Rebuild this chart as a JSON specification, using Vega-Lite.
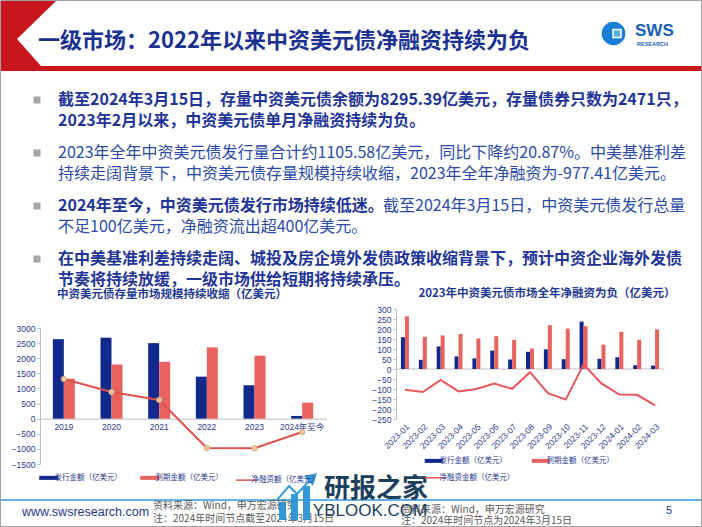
{
  "$schema": "https://vega.github.io/schema/vega-lite/v6.json",
  "width": 702,
  "height": 527,
  "autosize": "none",
  "padding": 0,
  "background": "white",
  "config": {"view": {"stroke": null}, "font": "Noto Sans CJK SC"},
  "resolve": {
    "scale": {"x": "independent", "y": "independent", "color": "independent", "stroke": "independent"},
    "axis": {"x": "independent", "y": "independent"},
    "legend": {"color": "independent", "stroke": "independent"}
  },
  "layer": [
    {
      "data": {"values": [{}]},
      "mark": {"type": "point", "shape": "M -0.99715,-0.09972 L -0.84046,-0.09972 L -0.95157,0.00855 L -0.88319,0.08547 L 1,0.08547 L 1,0.09972 L -0.99715,0.09972 Z", "size": 492804, "filled": true, "fill": "#c8161d", "strokeWidth": 0, "opacity": 1},
      "encoding": {"x": {"value": 351}, "y": {"value": 36}}
    },
    {
      "data": {"values": [{}]},
      "mark": {"type": "point", "shape": "circle", "size": 560, "filled": true, "fill": "#1a7fd4", "strokeWidth": 0, "opacity": 1},
      "encoding": {"x": {"value": 613.5}, "y": {"value": 33.5}}
    },
    {
      "data": {"values": [{}]},
      "mark": {"type": "point", "shape": "square", "size": 90, "filled": true, "fill": "white", "strokeWidth": 0, "opacity": 1},
      "encoding": {"x": {"value": 617}, "y": {"value": 33.5}}
    },
    {
      "data": {"values": [{}]},
      "mark": {"type": "point", "shape": "square", "size": 40, "filled": true, "fill": "#4fb0ea", "strokeWidth": 0, "opacity": 1},
      "encoding": {"x": {"value": 617}, "y": {"value": 33.5}}
    },
    {
      "data": {"values": [{"t": "SWS"}]},
      "mark": {"type": "text", "align": "left", "baseline": "middle", "fontSize": 17, "fontWeight": "bold", "font": "Liberation Sans", "color": "#1a5fb4"},
      "encoding": {"x": {"value": 635}, "y": {"value": 31}, "text": {"field": "t"}}
    },
    {
      "data": {"values": [{"t": "RESEARCH"}]},
      "mark": {"type": "text", "align": "left", "baseline": "middle", "fontSize": 5.5, "fontWeight": "bold", "font": "Liberation Sans", "color": "#1a5fb4"},
      "encoding": {"x": {"value": 637}, "y": {"value": 43.5}, "text": {"field": "t"}}
    },
    {
      "data": {"values": [{"t": "一级市场：2022年以来中资美元债净融资持续为负"}]},
      "mark": {"type": "text", "align": "left", "baseline": "middle", "fontSize": 22, "fontWeight": "bold", "color": "#1b3190"},
      "encoding": {"x": {"value": 38}, "y": {"value": 41}, "text": {"field": "t"}}
    },
    {
      "data": {"values": [
        {"para": 1, "line": 1, "seg": 1, "emphasis": true, "text": "截至2024年3月15日，存量中资美元债余额为8295.39亿美元，存量债券只数为2471只，"},
        {"para": 1, "line": 2, "seg": 1, "emphasis": true, "text": "2023年2月以来，中资美元债单月净融资持续为负。"},
        {"para": 2, "line": 1, "seg": 1, "emphasis": false, "text": "2023年全年中资美元债发行量合计约1105.58亿美元，同比下降约20.87%。中美基准利差"},
        {"para": 2, "line": 2, "seg": 1, "emphasis": false, "text": "持续走阔背景下，中资美元债存量规模持续收缩，2023年全年净融资为-977.41亿美元。"},
        {"para": 3, "line": 1, "seg": 1, "emphasis": true, "text": "2024年至今，中资美元债发行市场持续低迷。"},
        {"para": 3, "line": 1, "seg": 2, "emphasis": false, "text": "截至2024年3月15日，中资美元债发行总量"},
        {"para": 3, "line": 2, "seg": 1, "emphasis": false, "text": "不足100亿美元，净融资流出超400亿美元。"},
        {"para": 4, "line": 1, "seg": 1, "emphasis": true, "text": "在中美基准利差持续走阔、城投及房企境外发债政策收缩背景下，预计中资企业海外发债"},
        {"para": 4, "line": 2, "seg": 1, "emphasis": true, "text": "节奏将持续放缓，一级市场供给短期将持续承压。"}
      ]},
      "encoding": {
        "x": {"field": "seg", "type": "quantitative", "scale": {"domain": [1, 2], "range": [58, 383], "zero": false, "nice": false}, "axis": null},
        "y": {"field": "para", "type": "quantitative", "scale": {"domain": [1, 4], "range": [100, 259], "zero": false, "nice": false}, "axis": null}
      },
      "layer": [
        {
          "transform": [{"filter": "datum.line === 1 && datum.seg === 1"}],
          "mark": {"type": "square", "size": 49, "color": "#a6a6a6", "opacity": 1, "xOffset": -21}
        },
        {
          "transform": [{"filter": "datum.line === 1 && datum.emphasis"}],
          "mark": {"type": "text", "align": "left", "baseline": "middle", "fontSize": 16, "fontWeight": "bold", "color": "#1f3596"},
          "encoding": {"text": {"field": "text"}}
        },
        {
          "transform": [{"filter": "datum.line === 1 && !datum.emphasis"}],
          "mark": {"type": "text", "align": "left", "baseline": "middle", "fontSize": 16, "color": "#2b4ba6"},
          "encoding": {"text": {"field": "text"}}
        },
        {
          "transform": [{"filter": "datum.line === 2 && datum.emphasis"}],
          "mark": {"type": "text", "align": "left", "baseline": "middle", "fontSize": 16, "fontWeight": "bold", "color": "#1f3596", "dy": 21},
          "encoding": {"text": {"field": "text"}}
        },
        {
          "transform": [{"filter": "datum.line === 2 && !datum.emphasis"}],
          "mark": {"type": "text", "align": "left", "baseline": "middle", "fontSize": 16, "color": "#2b4ba6", "dy": 21},
          "encoding": {"text": {"field": "text"}}
        }
      ]
    },
    {
      "data": {"values": [{"t": "中资美元债存量市场规模持续收缩（亿美元）"}]},
      "mark": {"type": "text", "align": "center", "baseline": "middle", "fontSize": 11.5, "fontWeight": "bold", "color": "#1f3a8f"},
      "encoding": {"x": {"value": 172}, "y": {"value": 295}, "text": {"field": "t"}}
    },
    {
      "data": {"values": [{"t": "2023年中资美元债市场全年净融资为负（亿美元）"}]},
      "mark": {"type": "text", "align": "center", "baseline": "middle", "fontSize": 11.5, "fontWeight": "bold", "color": "#1f3a8f"},
      "encoding": {"x": {"value": 547}, "y": {"value": 294}, "text": {"field": "t"}}
    },
    {
      "data": {"values": [
        {"year": "2019", "series": "发行金额（亿美元）", "value": 2630},
        {"year": "2020", "series": "发行金额（亿美元）", "value": 2680},
        {"year": "2021", "series": "发行金额（亿美元）", "value": 2500},
        {"year": "2022", "series": "发行金额（亿美元）", "value": 1390},
        {"year": "2023", "series": "发行金额（亿美元）", "value": 1105.58},
        {"year": "2024年至今", "series": "发行金额（亿美元）", "value": 90},
        {"year": "2019", "series": "到期金额（亿美元）", "value": 1320},
        {"year": "2020", "series": "到期金额（亿美元）", "value": 1790},
        {"year": "2021", "series": "到期金额（亿美元）", "value": 1880},
        {"year": "2022", "series": "到期金额（亿美元）", "value": 2360},
        {"year": "2023", "series": "到期金额（亿美元）", "value": 2083},
        {"year": "2024年至今", "series": "到期金额（亿美元）", "value": 530},
        {"year": "2019", "series": "净融资额（亿美元）", "value": 1310},
        {"year": "2020", "series": "净融资额（亿美元）", "value": 880},
        {"year": "2021", "series": "净融资额（亿美元）", "value": 620},
        {"year": "2022", "series": "净融资额（亿美元）", "value": -970},
        {"year": "2023", "series": "净融资额（亿美元）", "value": -977.41},
        {"year": "2024年至今", "series": "净融资额（亿美元）", "value": -440}
      ]},
      "encoding": {
        "x": {"field": "year", "type": "nominal", "sort": null,
              "scale": {"domain": ["2019", "2020", "2021", "2022", "2023", "2024年至今"], "range": [40, 326], "paddingInner": 0, "paddingOuter": 0},
              "axis": {"orient": "bottom", "offset": -108.3, "title": null, "labelAngle": 0, "labelFontSize": 8.5, "labelColor": "#2b3a8c", "labelFont": "Liberation Sans, Noto Sans CJK SC", "domainColor": "#bfbfbf", "ticks": false, "labelPadding": 4, "grid": false}},
        "y": {"field": "value", "type": "quantitative",
              "scale": {"domain": [-1500, 3000], "range": [464, 328], "nice": false, "zero": false},
              "axis": {"orient": "left", "offset": -40, "title": null, "values": [-1500, -1000, -500, 0, 500, 1000, 1500, 2000, 2500, 3000], "format": "d", "labelFontSize": 8.5, "labelColor": "#2b3a8c", "labelFont": "Liberation Sans", "domainColor": "#bfbfbf", "tickColor": "#bfbfbf", "tickSize": 3, "labelPadding": 2, "grid": false}}
      },
      "layer": [
        {
          "transform": [{"filter": "datum.series === '发行金额（亿美元）'"}],
          "mark": {"type": "bar", "width": 11, "xOffset": -5.5},
          "encoding": {"color": {"field": "series", "type": "nominal", "scale": {"domain": ["发行金额（亿美元）", "到期金额（亿美元）"], "range": ["#11298a", "#e8635f"]}, "legend": null}}
        },
        {
          "transform": [{"filter": "datum.series === '到期金额（亿美元）'"}],
          "mark": {"type": "bar", "width": 11, "xOffset": 5.5},
          "encoding": {"color": {"field": "series", "type": "nominal", "scale": {"domain": ["发行金额（亿美元）", "到期金额（亿美元）"], "range": ["#11298a", "#e8635f"]}, "legend": null}}
        },
        {
          "transform": [{"filter": "datum.series === '净融资额（亿美元）'"}],
          "mark": {"type": "line", "strokeWidth": 2},
          "encoding": {"stroke": {"field": "series", "type": "nominal",
            "scale": {"domain": ["发行金额（亿美元）", "到期金额（亿美元）", "净融资额（亿美元）"], "range": ["#11298a", "#e8635f", "#e0514d"]},
            "legend": {"orient": "none", "legendX": 45, "legendY": 474, "direction": "horizontal", "title": null, "symbolType": "stroke", "symbolSize": 361, "symbolStrokeWidth": 4, "labelFontSize": 7.5, "labelColor": "#2b3a8c", "columnPadding": 10, "labelOffset": 2,
              "encode": {"symbols": {"update": {"strokeWidth": {"signal": "datum.value === '净融资额（亿美元）' ? 1.5 : 4"}}}}}}}
        },
        {
          "transform": [{"filter": "datum.series === '净融资额（亿美元）'"}],
          "mark": {"type": "point", "filled": true, "size": 30, "fill": "#f3c796", "stroke": "#c8a27c", "strokeWidth": 0.8, "opacity": 1}
        }
      ]
    },
    {
      "data": {"values": [
        {"month": "2023-01", "series": "发行金额（亿美元）", "value": 159},
        {"month": "2023-02", "series": "发行金额（亿美元）", "value": 46},
        {"month": "2023-03", "series": "发行金额（亿美元）", "value": 113},
        {"month": "2023-04", "series": "发行金额（亿美元）", "value": 63},
        {"month": "2023-05", "series": "发行金额（亿美元）", "value": 53},
        {"month": "2023-06", "series": "发行金额（亿美元）", "value": 92},
        {"month": "2023-07", "series": "发行金额（亿美元）", "value": 47},
        {"month": "2023-08", "series": "发行金额（亿美元）", "value": 86},
        {"month": "2023-09", "series": "发行金额（亿美元）", "value": 98},
        {"month": "2023-10", "series": "发行金额（亿美元）", "value": 49},
        {"month": "2023-11", "series": "发行金额（亿美元）", "value": 237},
        {"month": "2023-12", "series": "发行金额（亿美元）", "value": 51},
        {"month": "2024-01", "series": "发行金额（亿美元）", "value": 59},
        {"month": "2024-02", "series": "发行金额（亿美元）", "value": 19},
        {"month": "2024-03", "series": "发行金额（亿美元）", "value": 17},
        {"month": "2023-01", "series": "到期金额（亿美元）", "value": 263},
        {"month": "2023-02", "series": "到期金额（亿美元）", "value": 161},
        {"month": "2023-03", "series": "到期金额（亿美元）", "value": 168},
        {"month": "2023-04", "series": "到期金额（亿美元）", "value": 175},
        {"month": "2023-05", "series": "到期金额（亿美元）", "value": 153},
        {"month": "2023-06", "series": "到期金额（亿美元）", "value": 164},
        {"month": "2023-07", "series": "到期金额（亿美元）", "value": 146},
        {"month": "2023-08", "series": "到期金额（亿美元）", "value": 102},
        {"month": "2023-09", "series": "到期金额（亿美元）", "value": 219},
        {"month": "2023-10", "series": "到期金额（亿美元）", "value": 202},
        {"month": "2023-11", "series": "到期金额（亿美元）", "value": 214},
        {"month": "2023-12", "series": "到期金额（亿美元）", "value": 122},
        {"month": "2024-01", "series": "到期金额（亿美元）", "value": 186},
        {"month": "2024-02", "series": "到期金额（亿美元）", "value": 146},
        {"month": "2024-03", "series": "到期金额（亿美元）", "value": 198},
        {"month": "2023-01", "series": "净融资金额（亿美元）", "value": -104},
        {"month": "2023-02", "series": "净融资金额（亿美元）", "value": -115},
        {"month": "2023-03", "series": "净融资金额（亿美元）", "value": -55},
        {"month": "2023-04", "series": "净融资金额（亿美元）", "value": -112},
        {"month": "2023-05", "series": "净融资金额（亿美元）", "value": -100},
        {"month": "2023-06", "series": "净融资金额（亿美元）", "value": -73},
        {"month": "2023-07", "series": "净融资金额（亿美元）", "value": -99},
        {"month": "2023-08", "series": "净融资金额（亿美元）", "value": -16},
        {"month": "2023-09", "series": "净融资金额（亿美元）", "value": -121},
        {"month": "2023-10", "series": "净融资金额（亿美元）", "value": -153},
        {"month": "2023-11", "series": "净融资金额（亿美元）", "value": 23},
        {"month": "2023-12", "series": "净融资金额（亿美元）", "value": -72},
        {"month": "2024-01", "series": "净融资金额（亿美元）", "value": -128},
        {"month": "2024-02", "series": "净融资金额（亿美元）", "value": -129},
        {"month": "2024-03", "series": "净融资金额（亿美元）", "value": -182}
      ]},
      "encoding": {
        "x": {"field": "month", "type": "nominal", "sort": null,
              "scale": {"range": [396, 664], "paddingInner": 0, "paddingOuter": 0},
              "axis": {"orient": "bottom", "offset": -108, "title": null, "labelAngle": -45, "labelFontSize": 8.5, "labelColor": "#2b3a8c", "labelFont": "Liberation Sans", "domain": false, "ticks": false, "labelPadding": 3, "grid": false}},
        "y": {"field": "value", "type": "quantitative",
              "scale": {"domain": [-250, 300], "range": [419, 309], "nice": false, "zero": false},
              "axis": {"orient": "left", "offset": -396, "title": null, "values": [-250, -200, -150, -100, -50, 0, 50, 100, 150, 200, 250, 300], "format": "d", "labelFontSize": 8.5, "labelColor": "#2b3a8c", "labelFont": "Liberation Sans", "domainColor": "#bfbfbf", "tickColor": "#bfbfbf", "tickSize": 3, "labelPadding": 2, "grid": false}}
      },
      "layer": [
        {
          "transform": [{"filter": "datum.series === '发行金额（亿美元）'"}],
          "mark": {"type": "tick", "size": 18, "thickness": 1, "color": "#bfbfbf", "opacity": 1},
          "encoding": {"y": {"datum": 0}}
        },
        {
          "transform": [{"filter": "datum.series === '发行金额（亿美元）'"}],
          "mark": {"type": "bar", "width": 4, "xOffset": -2},
          "encoding": {"color": {"field": "series", "type": "nominal", "scale": {"domain": ["发行金额（亿美元）", "到期金额（亿美元）"], "range": ["#11298a", "#e8635f"]}, "legend": null}}
        },
        {
          "transform": [{"filter": "datum.series === '到期金额（亿美元）'"}],
          "mark": {"type": "bar", "width": 4, "xOffset": 2},
          "encoding": {"color": {"field": "series", "type": "nominal", "scale": {"domain": ["发行金额（亿美元）", "到期金额（亿美元）"], "range": ["#11298a", "#e8635f"]}, "legend": null}}
        },
        {
          "transform": [{"filter": "datum.series === '净融资金额（亿美元）'"}],
          "mark": {"type": "line", "strokeWidth": 2},
          "encoding": {"stroke": {"field": "series", "type": "nominal",
            "scale": {"domain": ["发行金额（亿美元）", "到期金额（亿美元）", "净融资金额（亿美元）"], "range": ["#11298a", "#e8635f", "#e8565a"]},
            "legend": {"orient": "none", "legendX": 430, "legendY": 457, "direction": "horizontal", "columns": 2, "title": null, "symbolType": "stroke", "symbolSize": 324, "symbolStrokeWidth": 4, "labelFontSize": 7.5, "labelColor": "#2b3a8c", "columnPadding": 8, "rowPadding": 4, "labelOffset": 2,
              "encode": {"symbols": {"update": {"strokeWidth": {"signal": "datum.value === '净融资金额（亿美元）' ? 1.5 : 4"}}}}}}}
        }
      ]
    },
    {
      "data": {"values": [{}]},
      "mark": {"type": "rule", "color": "#3399dd", "strokeWidth": 1.5},
      "encoding": {"x": {"value": 0}, "x2": {"value": 702}, "y": {"value": 500}}
    },
    {
      "data": {"values": [{"t": "www.swsresearch.com"}]},
      "mark": {"type": "text", "align": "left", "baseline": "middle", "fontSize": 12.5, "font": "Liberation Sans", "color": "#1f3a8a"},
      "encoding": {"x": {"value": 22}, "y": {"value": 512}, "text": {"field": "t"}}
    },
    {
      "data": {"values": [{"t": "资料来源：Wind，申万宏源研究"}]},
      "mark": {"type": "text", "align": "left", "baseline": "middle", "fontSize": 10, "color": "#595959"},
      "encoding": {"x": {"value": 153}, "y": {"value": 506}, "text": {"field": "t"}}
    },
    {
      "data": {"values": [{"t": "注：2024年时间节点截至2024年3月15日"}]},
      "mark": {"type": "text", "align": "left", "baseline": "middle", "fontSize": 10, "color": "#595959"},
      "encoding": {"x": {"value": 153}, "y": {"value": 519}, "text": {"field": "t"}}
    },
    {
      "data": {"values": [{"t": "资料来源：Wind，申万宏源研究"}]},
      "mark": {"type": "text", "align": "left", "baseline": "middle", "fontSize": 10, "color": "#595959"},
      "encoding": {"x": {"value": 401}, "y": {"value": 510}, "text": {"field": "t"}}
    },
    {
      "data": {"values": [{"t": "注：2024年时间节点为2024年3月15日"}]},
      "mark": {"type": "text", "align": "left", "baseline": "middle", "fontSize": 10, "color": "#595959"},
      "encoding": {"x": {"value": 401}, "y": {"value": 521}, "text": {"field": "t"}}
    },
    {
      "data": {"values": [{"t": "5"}]},
      "mark": {"type": "text", "align": "center", "baseline": "middle", "fontSize": 11, "font": "Liberation Sans", "color": "#1f3a8a"},
      "encoding": {"x": {"value": 669}, "y": {"value": 511}, "text": {"field": "t"}}
    },
    {
      "data": {"values": [{}]},
      "mark": {"type": "point", "shape": "M -0.881,0.143 L -0.548,0.143 L -0.548,1 L -0.881,1 Z M -0.310,-0.238 L 0.024,-0.238 L 0.024,1 L -0.310,1 Z M 0.262,-0.619 L 0.595,-0.619 L 0.595,1 L 0.262,1 Z M -0.976,-0.024 L -0.405,-0.690 L -0.024,-0.310 L 0.643,-1.024 L 0.643,-0.881 L -0.024,-0.167 L -0.405,-0.548 L -0.976,0.119 Z M 0.310,-1.095 L 0.929,-1.238 L 0.738,-0.619 Z", "size": 1764, "filled": true, "fill": "#2a93d5", "strokeWidth": 0, "opacity": 0.95},
      "encoding": {"x": {"value": 297.5}, "y": {"value": 499}}
    },
    {
      "data": {"values": [{"t": "研报之家"}]},
      "mark": {"type": "text", "align": "center", "baseline": "middle", "fontSize": 26, "fontWeight": "bold", "color": "#1c3f5e"},
      "encoding": {"x": {"value": 376}, "y": {"value": 489}, "text": {"field": "t"}}
    },
    {
      "data": {"values": [{"t": "YBLOOK.COM"}]},
      "mark": {"type": "text", "align": "center", "baseline": "middle", "fontSize": 17, "font": "Liberation Sans", "color": "#1c3f5e"},
      "encoding": {"x": {"value": 370}, "y": {"value": 511}, "text": {"field": "t"}}
    },
    {
      "data": {"values": [{}]},
      "mark": {"type": "rect", "fill": null, "fillOpacity": 0, "stroke": "#a0a0a0", "strokeWidth": 1},
      "encoding": {"x": {"value": 0.5}, "x2": {"value": 701.5}, "y": {"value": 0.5}, "y2": {"value": 526.5}}
    }
  ]
}
